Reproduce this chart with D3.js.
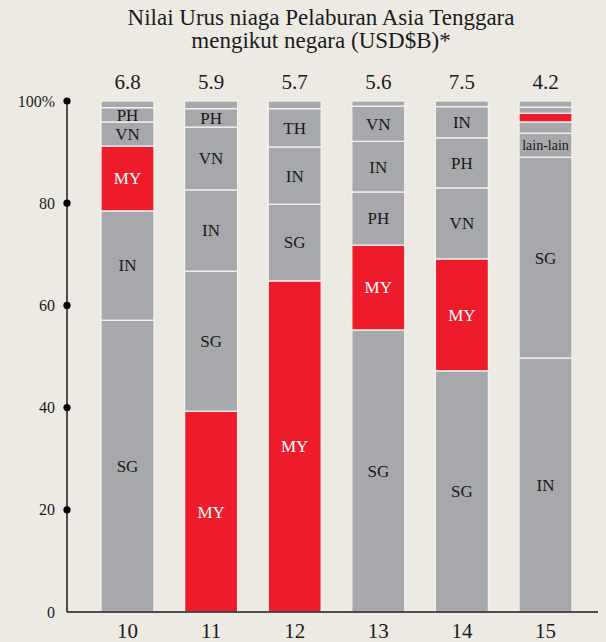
<!DOCTYPE html>
<html><head><meta charset="utf-8">
<script src="https://cdn.jsdelivr.net/npm/d3@7"></script>
<style>
html,body{margin:0;padding:0;background:#edeae3;}
svg{display:block;}
text{font-family:"Liberation Serif","Times New Roman",serif;}
</style></head>
<body>
<svg id="chart" width="606" height="642"></svg>
<script>
const years = ["10","11","12","13","14","15"];
const totals = ["6.8","5.9","5.7","5.6","7.5","4.2"];
const yTicks = [0,20,40,60,80,100];
const titleLines = ["Nilai Urus niaga Pelaburan Asia Tenggara","mengikut negara (USD$B)*"];
// segments bottom-to-top: [country, share %]
const seg10 = [["SG",57.1],["IN",21.4],["MY",12.7],["VN",4.7],["PH",2.8],["",1.3]];
const seg11 = [["MY",39.3],["SG",27.4],["IN",15.9],["VN",12.3],["PH",3.6],["",1.5]];
const seg12 = [["MY",64.8],["SG",15.0],["IN",11.2],["TH",7.5],["",1.5]];
const seg13 = [["SG",55.2],["MY",16.6],["PH",10.4],["IN",9.9],["VN",6.9],["",1.0]];
const seg14 = [["SG",47.2],["MY",21.9],["VN",13.9],["PH",9.8],["IN",6.1],["",1.1]];
const seg15 = [["IN",49.7],["SG",39.3],["lain-lain",4.7],["",2.2],["MY",1.7],["",1.2],["",1.2]];
const segments = [seg10,seg11,seg12,seg13,seg14,seg15];

const svg = d3.select("#chart");
const gray = "#a7a8ab", red = "#ee1c2a", ink = "#1a1a1a";

const x = d3.scaleBand().domain(years).range([85.7,587.3]).paddingInner(0.366).paddingOuter(0.183);
const y = d3.scaleLinear().domain([0,100]).range([612,101]);

// title
svg.append("g").selectAll("text").data(titleLines).join("text")
  .attr("x",321).attr("y",(d,i)=>25+i*23).attr("text-anchor","middle")
  .attr("font-size",23).attr("fill",ink).text(d=>d);

// bars
years.forEach((yr,i)=>{
  let cum = 0;
  const rows = segments[i].map(([name,v])=>{const r={name,y0:cum,y1:cum+v}; cum+=v; return r;});
  const g = svg.append("g");
  g.selectAll("rect").data(rows).join("rect")
    .attr("x",x(yr)).attr("width",x.bandwidth())
    .attr("y",d=>y(d.y1)).attr("height",d=>y(d.y0)-y(d.y1))
    .attr("fill",d=>d.name==="MY"?red:gray)
    .attr("stroke","#f3f1ec").attr("stroke-width",1.3);
  g.selectAll("text").data(rows.filter(d=>d.name && (y(d.y0)-y(d.y1))>12)).join("text")
    .attr("x",x(yr)+x.bandwidth()/2)
    .attr("y",d=>(y(d.y0)+y(d.y1))/2)
    .attr("dy","0.35em").attr("text-anchor","middle")
    .attr("font-size",d=>d.name==="lain-lain"?14:17)
    .attr("fill",d=>d.name==="MY"?"#fff":ink)
    .text(d=>d.name);
  svg.append("text").attr("x",x(yr)+x.bandwidth()/2).attr("y",89)
    .attr("text-anchor","middle").attr("font-size",21).attr("fill",ink).text(totals[i]);
  svg.append("text").attr("x",x(yr)+x.bandwidth()/2).attr("y",638)
    .attr("text-anchor","middle").attr("font-size",21).attr("fill",ink).text(yr);
});

// axes
svg.append("line").attr("x1",67).attr("x2",67).attr("y1",y(100)).attr("y2",y(0))
  .attr("stroke",ink).attr("stroke-width",1.5);
svg.append("line").attr("x1",67).attr("x2",598).attr("y1",y(0)).attr("y2",y(0))
  .attr("stroke",ink).attr("stroke-width",1.5);
svg.append("g").selectAll("circle").data(yTicks.filter(t=>t>0)).join("circle")
  .attr("cx",67).attr("cy",d=>y(d)).attr("r",3.6).attr("fill","#000");
svg.append("g").selectAll("text").data(yTicks).join("text")
  .attr("x",55).attr("y",d=>y(d)).attr("dy","0.35em").attr("text-anchor","end")
  .attr("font-size",16).attr("fill",ink).text(d=>d===100?"100%":d);
</script>
</body></html>
